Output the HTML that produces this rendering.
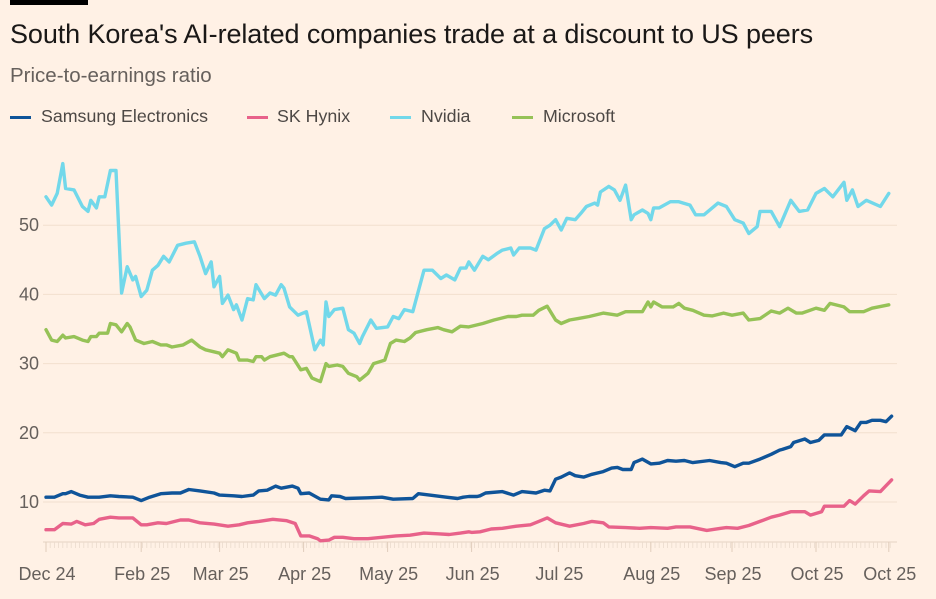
<!DOCTYPE html>
<html><head><meta charset="utf-8">
<style>
html,body{margin:0;padding:0;background:#FFF1E5;}
body{width:936px;height:599px;overflow:hidden;position:relative;font-family:"Liberation Sans",sans-serif;}
#topbar{position:absolute;left:10px;top:0;width:78px;height:5px;background:#000;}
#title{position:absolute;left:10px;top:19px;font-size:27px;color:#1a1817;white-space:nowrap;letter-spacing:-0.1px;}
#subtitle{position:absolute;left:10px;top:64px;font-size:20.5px;color:#66605c;white-space:nowrap;}
.lt{position:absolute;top:106px;font-size:17.8px;color:#4d4845;white-space:nowrap;}
.sw{position:absolute;top:116px;width:21px;height:3px;}
svg{position:absolute;left:0;top:0;}
</style></head><body>
<div id="topbar"></div>
<div id="title">South Korea's AI-related companies trade at a discount to US peers</div>
<div id="subtitle">Price-to-earnings ratio</div>
<div class="sw" style="left:10px;background:#0f5499"></div>
<div class="lt" style="left:41px">Samsung Electronics</div>
<div class="sw" style="left:247px;background:#e8628a"></div>
<div class="lt" style="left:277px">SK Hynix</div>
<div class="sw" style="left:390px;background:#72d8ea"></div>
<div class="lt" style="left:421px">Nvidia</div>
<div class="sw" style="left:512px;background:#96c257"></div>
<div class="lt" style="left:543px">Microsoft</div>
<svg id="chart" width="936" height="599"></svg>
<script>
const yTicks=[10,20,30,40,50];
const xTickDays=[0,34,62,92,122,152,183,216,245,275,301];
const xTickLabels=["Dec 24","Feb 25","Mar 25","Apr 25","May 25","Jun 25","Jul 25","Aug 25","Sep 25","Oct 25","Oct 25"];
const nvDays=[0,2,4,6,7,10,13,15,16,18,19,21,23,25,27,29,31,32,34,36,38,40,42,44,47,50,53,55,57,59,60,62,63,65,67,68,70,72,74,75,78,80,82,84,85,87,90,93,96,98,99,100,101,103,106,108,110,112,113,116,118,122,124,126,128,131,135,138,141,143,146,148,150,151,153,156,158,161,163,166,167,169,173,175,178,180,182,184,186,189,191,193,196,197,198,201,203,205,207,209,210,213,215,216,217,219,223,226,230,232,235,240,243,246,249,251,254,255,259,262,264,266,269,272,275,278,281,285,286,288,290,293,298,301];
const nvVals=[54.1,52.9,54.6,58.9,55.3,55.1,52.7,52.0,53.6,52.5,54.1,54.1,57.9,57.9,40.2,44.0,42.1,42.6,39.7,40.6,43.5,44.2,45.5,44.7,47.1,47.4,47.6,45.5,43.0,44.7,41.1,42.6,38.7,39.9,37.8,38.5,36.3,39.4,39.2,41.4,39.4,40.2,39.9,41.4,40.9,38.2,37.0,37.5,32.0,33.4,32.7,38.9,36.8,37.8,38.0,34.9,34.4,32.9,33.9,36.3,35.1,35.3,36.8,36.5,37.8,37.5,43.5,43.5,42.3,42.8,42.1,43.8,43.8,44.7,43.5,45.5,45.0,45.9,46.4,46.7,45.7,46.7,46.7,46.4,49.5,50.0,50.8,49.3,51.0,50.8,51.7,52.7,53.2,52.9,54.8,55.6,55.1,53.6,55.8,50.8,51.5,52.2,51.7,50.8,52.5,52.5,53.4,53.4,52.9,51.5,51.5,53.2,52.7,50.8,50.3,48.8,49.8,52.0,52.0,49.8,51.7,53.6,52.0,52.2,54.6,55.3,54.1,56.2,53.6,55.1,52.7,53.6,52.7,54.6];
const msDays=[0,2,4,6,7,10,13,15,16,18,19,22,23,25,27,29,30,32,35,38,41,43,45,49,52,55,57,60,62,63,65,68,69,72,74,75,77,78,80,82,85,87,88,91,93,95,98,100,101,104,106,108,111,112,115,117,121,123,125,128,130,132,136,140,142,145,148,151,156,160,165,168,170,174,176,179,182,184,187,190,194,199,204,207,213,215,216,217,220,224,226,228,231,235,238,242,245,249,251,255,259,262,265,268,270,275,278,280,285,287,292,295,301];
const msVals=[34.9,33.4,33.2,34.1,33.7,33.9,33.4,33.2,33.9,33.9,34.4,34.4,35.8,35.6,34.6,35.8,35.3,33.4,32.9,33.2,32.7,32.7,32.4,32.7,33.4,32.4,32.0,31.7,31.5,31.0,32.0,31.5,30.5,30.5,30.3,31.0,31.0,30.5,31.0,31.2,31.5,31.0,31.0,29.1,29.3,27.9,27.4,30.0,29.6,29.8,29.6,28.6,28.1,27.6,28.6,30.0,30.5,32.9,33.4,33.2,33.7,34.5,34.9,35.2,34.9,34.6,35.4,35.3,35.8,36.3,36.8,36.8,37.0,37.0,37.7,38.3,36.3,35.8,36.3,36.5,36.8,37.3,37.0,37.5,37.5,38.9,38.2,38.9,38.2,38.2,38.7,38.0,37.7,37.0,36.9,37.3,37.0,37.3,36.3,36.5,37.6,37.3,38.0,37.3,37.3,38.0,37.7,38.7,38.2,37.5,37.5,38.0,38.5];
const ssDays=[0,3,6,7,9,12,15,19,23,26,31,34,37,41,45,48,51,55,60,62,67,70,74,76,79,82,84,88,90,91,94,98,101,102,105,107,115,120,124,131,133,137,143,147,149,151,154,155,157,163,167,170,175,178,180,182,184,187,189,192,195,199,202,204,206,209,210,213,216,219,222,225,228,231,237,241,243,246,249,251,255,259,262,263,266,267,271,273,276,278,284,286,289,291,293,295,298,300,302];
const ssVals=[10.7,10.7,11.2,11.2,11.5,11.0,10.7,10.7,10.9,10.8,10.7,10.2,10.7,11.2,11.3,11.3,11.8,11.6,11.3,11.0,10.9,10.8,11.0,11.6,11.7,12.3,12.0,12.3,12.0,11.2,11.3,10.4,10.3,10.9,10.8,10.5,10.6,10.7,10.4,10.5,11.2,11.0,10.7,10.5,10.7,10.8,10.8,10.9,11.3,11.5,11.0,11.5,11.3,11.7,11.6,13.3,13.6,14.2,13.8,13.6,14.0,14.4,14.9,15.0,14.7,14.7,15.7,16.2,15.5,15.6,16.0,15.9,16.0,15.7,16.0,15.7,15.6,15.1,15.6,15.6,16.2,16.9,17.5,17.6,18.0,18.6,19.1,18.6,18.9,19.7,19.7,20.9,20.3,21.5,21.5,21.8,21.8,21.6,22.4];
const skDays=[0,3,6,9,11,14,17,19,23,26,31,34,36,40,43,48,51,55,60,65,69,72,76,81,86,89,91,94,97,98,101,103,106,110,115,120,125,130,135,140,144,148,151,152,155,159,163,168,173,176,179,182,187,192,195,199,201,207,212,216,222,225,230,236,241,243,247,251,255,259,262,266,271,273,277,278,285,287,289,292,294,298,302];
const skVals=[6.0,6.0,6.9,6.8,7.2,6.7,6.9,7.5,7.8,7.7,7.7,6.7,6.7,7.0,6.9,7.4,7.4,7.0,6.8,6.5,6.7,7.0,7.2,7.5,7.3,6.9,5.1,5.1,4.7,4.4,4.5,4.9,4.9,4.7,4.7,4.9,5.1,5.2,5.5,5.4,5.3,5.5,5.7,5.6,5.7,6.1,6.2,6.5,6.7,7.2,7.7,7.0,6.5,6.9,7.2,7.0,6.4,6.3,6.2,6.3,6.2,6.4,6.4,5.9,6.2,6.3,6.2,6.6,7.2,7.8,8.1,8.6,8.6,8.1,8.6,9.4,9.4,10.2,9.7,10.9,11.6,11.5,13.2];

const NS='http://www.w3.org/2000/svg';
const svg=document.getElementById('chart');
const X0=46,PXD=2.8,Y10=502,PXV=6.92;
function xs(d){return X0+d*PXD;}
function ys(v){return Y10-(v-10)*PXV;}
function mk(t,a){const e=document.createElementNS(NS,t);for(const k in a)e.setAttribute(k,a[k]);svg.appendChild(e);return e;}

yTicks.forEach(function(v){
  const g=mk('line',{x1:43,x2:897,y1:ys(v),y2:ys(v),stroke:'#f2dfce','stroke-width':1});
  
  
  const t=mk('text',{x:39,y:ys(v)+6,'text-anchor':'end','font-size':18,fill:'#66605c','font-family':'Liberation Sans, sans-serif'});
  t.textContent=v;
  
  
});
const ax=mk('line',{x1:43,x2:897,y1:542,y2:542,stroke:'#e6d4c4','stroke-width':1});


for(let d=0;d<=302;d+=1.5){
  const tk=mk('line',{x1:xs(d),x2:xs(d),y1:542,y2:548,stroke:'#eadbcd','stroke-width':0.8});
  
  
}
xTickDays.forEach(function(d,i){
  const tk=mk('line',{x1:xs(d),x2:xs(d),y1:542,y2:552,stroke:'#e0cdbc','stroke-width':1});
  
  
  const t=mk('text',{x:xs(d)+1,y:580,'text-anchor':'middle','font-size':18,fill:'#66605c','font-family':'Liberation Sans, sans-serif'});
  t.textContent=xTickLabels[i];
  
  
});
function line(days,vals,color,name){
  const p=days.map(function(d,i){return xs(d).toFixed(1)+','+ys(vals[i]).toFixed(1);}).join(' ');
  const l=mk('polyline',{points:p,fill:'none',stroke:color,'stroke-width':3.4,'stroke-linejoin':'round','stroke-linecap':'round'});
  
  
}
line(nvDays,nvVals,'#72d8ea','nvidia-line');
line(msDays,msVals,'#96c257','microsoft-line');
line(skDays,skVals,'#e8628a','sk-hynix-line');
line(ssDays,ssVals,'#0f5499','samsung-line');
</script>
</body></html>
